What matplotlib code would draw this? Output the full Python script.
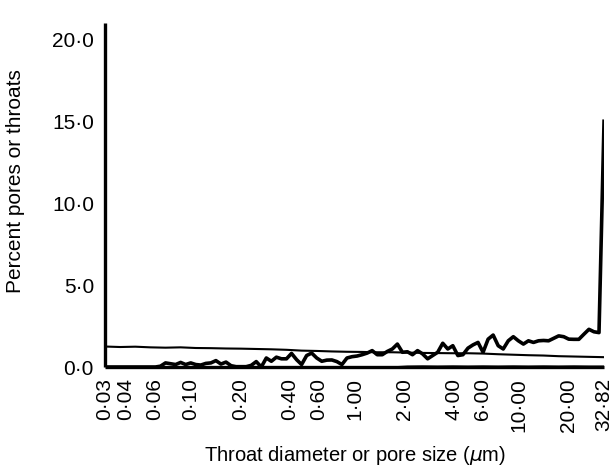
import numpy as np
import matplotlib
matplotlib.use("Agg")
import matplotlib.pyplot as plt
from matplotlib.ticker import FixedLocator, FixedFormatter, NullLocator

plt.rcParams["font.family"] = ["Liberation Sans", "DejaVu Sans"]

# Size-class limits (µm) and tick labels
d_min, d_max = 0.03, 32.82
tick_values = [0.03, 0.04, 0.06, 0.10, 0.20, 0.40, 0.60, 1.00, 2.00, 4.00, 6.00, 10.00, 20.00, 32.82]
tick_labels = ["0\u00b703", "0\u00b704", "0\u00b706", "0\u00b710", "0\u00b720", "0\u00b740",
               "0\u00b760", "1\u00b700", "2\u00b700", "4\u00b700", "6\u00b700", "10\u00b700",
               "20\u00b700", "32\u00b782"]
y_ticks = [0, 5, 10, 15, 20]
y_labels = ["0\u00b70", "5\u00b70", "10\u00b70", "15\u00b70", "20\u00b70"]

# Pore-size distribution (percent per size class, 100 classes)
pores = [
    0, 0, 0, 0, 0, 0, 0, 0, 0, 0,
    0, 0.05, 0.25, 0.20, 0.15, 0.28, 0.15, 0.25, 0.15, 0.12,
    0.22, 0.25, 0.39, 0.18, 0.30, 0.08, 0.02, 0.02, 0.02, 0.10,
    0.33, 0.00, 0.55, 0.35, 0.60, 0.50, 0.50, 0.83, 0.45, 0.15,
    0.70, 0.85, 0.55, 0.35, 0.42, 0.43, 0.33, 0.15, 0.55, 0.63,
    0.67, 0.75, 0.85, 1.00, 0.75, 0.75, 0.95, 1.10, 1.40, 0.90,
    0.93, 0.75, 1.00, 0.80, 0.50, 0.70, 0.90, 1.45, 1.10, 1.30,
    0.70, 0.75, 1.15, 1.35, 1.50, 0.90, 1.70, 1.95, 1.30, 1.10,
    1.60, 1.85, 1.60, 1.40, 1.60, 1.50, 1.60, 1.62, 1.60, 1.75,
    1.90, 1.85, 1.70, 1.69, 1.69, 2.00, 2.30, 2.15, 2.10, 15.0,
]

# Throat-size distribution (percent per size class, 34 classes)
throats = [
    1.25, 1.22, 1.24, 1.20, 1.18, 1.20, 1.16, 1.15, 1.13, 1.12,
    1.10, 1.08, 1.05, 1.00, 0.98, 0.95, 0.93, 0.92, 0.90, 0.90,
    0.88, 0.86, 0.85, 0.84, 0.84, 0.82, 0.78, 0.75, 0.72, 0.70,
    0.66, 0.64, 0.62, 0.60,
]

# Third trace lying on the baseline
baseline = [
    0, 0, 0, 0, 0, 0, 0, 0, 0, 0,
    0, 0, 0, 0, 0, 0, 0, 0, 0, 0,
    0.05, 0.06, 0.05, 0.06, 0.05, 0.06, 0.05, 0.06, 0.05, 0.06,
    0.05, 0.06, 0.05, 0.05,
]

d_pores = np.geomspace(d_min, d_max, len(pores))
d_throats = np.geomspace(d_min, d_max, len(throats))
d_base = np.geomspace(d_min, d_max, len(baseline))

fig = plt.figure(figsize=(6.12, 4.68), dpi=100)
ax = fig.add_axes([0.1716, 0.2158, 0.987 - 0.1716, 0.9509 - 0.2158])

ax.plot(d_base, baseline, color="black", lw=1.0, solid_joinstyle="round")
ax.plot(d_throats, throats, color="black", lw=1.5, solid_joinstyle="round")
ax.plot(d_pores, pores, color="black", lw=2.6, solid_joinstyle="round")

ax.set_xscale("log")
ax.set_xlim(d_min, d_max)
ax.set_ylim(0, 21)

ax.xaxis.set_major_locator(FixedLocator(tick_values))
ax.xaxis.set_major_formatter(FixedFormatter(tick_labels))
ax.xaxis.set_minor_locator(NullLocator())
ax.set_yticks(y_ticks)
ax.set_yticklabels(y_labels)

ax.tick_params(axis="both", length=0, labelsize=15)
ax.tick_params(axis="x", pad=8)
ax.tick_params(axis="y", pad=8)
for lab in ax.get_xticklabels():
    lab.set_rotation(90)
    lab.set_va("top")
    lab.set_ha("center")

for side in ("top", "right"):
    ax.spines[side].set_visible(False)
for side in ("left", "bottom"):
    ax.spines[side].set_linewidth(2.4)
    ax.spines[side].set_capstyle("butt")

ax.set_ylabel("Percent pores or throats", fontsize=15)
ax.yaxis.set_label_coords(-0.16, 0.54)
ax.set_xlabel("Throat diameter or pore size ($\\mu$m)", fontsize=14.5, labelpad=9)

fig.savefig("out.png", dpi=100)
